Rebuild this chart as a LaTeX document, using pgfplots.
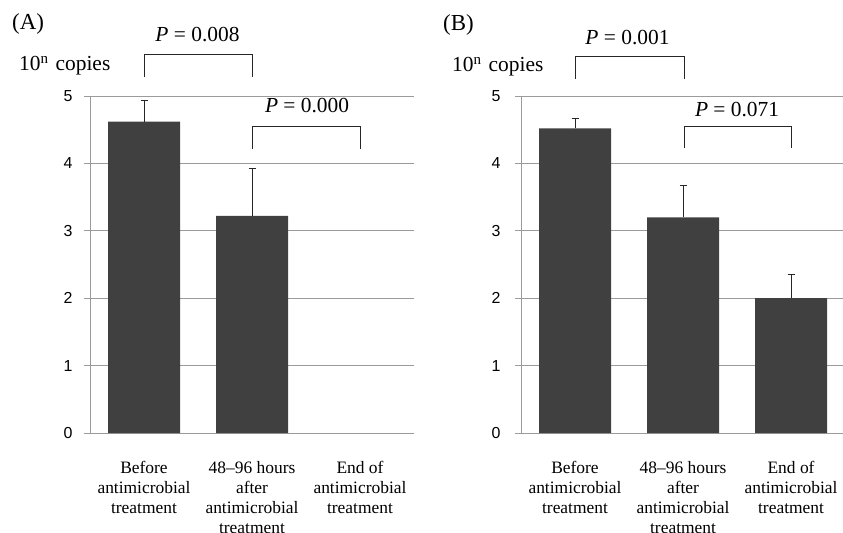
\documentclass[border=0pt]{standalone}
\usepackage{fontspec}
\setmainfont{Liberation Serif}
\newfontfamily\arial{Liberation Sans}
\usepackage{pgfplots}
\pgfplotsset{compat=1.18}
\definecolor{barc}{RGB}{64,64,64}
\definecolor{gridc}{RGB}{155,155,155}
\pgfplotsset{panel/.style={
  scale only axis, height=337bp, ymin=0, ymax=5, xmin=-0.5,
  axis lines*=left, axis line style={gridc, line width=1bp},
  ytick={0,...,5}, ymajorgrids, grid style={gridc, line width=1bp},
  ytick style={gridc, line width=1bp}, major tick length=6bp, tick align=outside,
  xtick={0,1,2}, xtick style={draw=none},
  xticklabels={{Before\\antimicrobial\\treatment},{48--96 hours\\after\\antimicrobial\\treatment},{End of\\antimicrobial\\treatment}},
  xticklabel style={font=\fontsize{17.5}{20}\selectfont, align=center, anchor=north, yshift=-19bp},
  yticklabel style={font=\fontsize{16}{16}\selectfont\arial},
  /pgf/number format/assume math mode=true,
  clip=false,
}}
\begin{document}
\begin{tikzpicture}
\useasboundingbox (0,0) rectangle (843bp,533bp);
% Panel A
\begin{axis}[panel, width=324bp, xmax=2.5, at={(90bp,100bp)}, anchor=south west,
  yticklabel style={xshift=-8bp}]
\addplot[ybar, bar width=72bp, fill=barc, draw=none,
  error bars/.cd, y dir=plus, y explicit,
  error bar style={black!85, line width=0.9bp}, error mark options={black!85, line width=0.9bp, mark size=3.5bp, rotate=90}]
  coordinates {(0,4.62) +- (0,0.32) (1,3.22) +- (0,0.70)};
\draw[black!85, line width=0.9bp] (axis cs:0,5.28) -- (axis cs:0,5.61) -- (axis cs:1,5.61) -- (axis cs:1,5.28);
\draw[black!85, line width=0.9bp] (axis cs:1,4.21) -- (axis cs:1,4.545) -- (axis cs:2,4.545) -- (axis cs:2,4.21);
\node[anchor=base, font=\fontsize{21.5}{21.5}\selectfont] at (axis cs:0.495,5.806) {\textit{P} = 0.008};
\node[anchor=base, font=\fontsize{21.5}{21.5}\selectfont] at (axis cs:1.51,4.75) {\textit{P} = 0.000};
\end{axis}
% Panel B
\begin{axis}[panel, width=322bp, xmax=2.481, at={(521bp,100bp)}, anchor=south west,
  yticklabel style={xshift=-11bp}]
\addplot[ybar, bar width=72bp, fill=barc, draw=none,
  error bars/.cd, y dir=plus, y explicit,
  error bar style={black!85, line width=0.9bp}, error mark options={black!85, line width=0.9bp, mark size=3.5bp, rotate=90}]
  coordinates {(0,4.52) +- (0,0.15) (1,3.20) +- (0,0.47) (2,2.00) +- (0,0.35)};
\draw[black!85, line width=0.9bp] (axis cs:0,5.25) -- (axis cs:0,5.58) -- (axis cs:1.01,5.58) -- (axis cs:1.01,5.25);
\draw[black!85, line width=0.9bp] (axis cs:1.01,4.23) -- (axis cs:1.01,4.555) -- (axis cs:2,4.555) -- (axis cs:2,4.23);
\node[anchor=base, font=\fontsize{21.5}{21.5}\selectfont] at (axis cs:0.486,5.757) {\textit{P} = 0.001};
\node[anchor=base, font=\fontsize{21.5}{21.5}\selectfont] at (axis cs:1.5,4.69) {\textit{P} = 0.071};
\end{axis}
% Labels
\node[anchor=base west, font=\fontsize{23}{23}\selectfont, inner sep=0] at (12bp,503bp) {(A)};
\node[anchor=base west, font=\fontsize{23}{23}\selectfont, inner sep=0] at (443bp,502bp) {(B)};
\node[anchor=base west, font=\fontsize{21.5}{21.5}\selectfont, inner sep=0] at (19bp,462bp) {10\textsuperscript{n}\hspace{7bp}copies};
\node[anchor=base west, font=\fontsize{21.5}{21.5}\selectfont, inner sep=0] at (452bp,461bp) {10\textsuperscript{n}\hspace{7bp}copies};
\end{tikzpicture}
\end{document}
